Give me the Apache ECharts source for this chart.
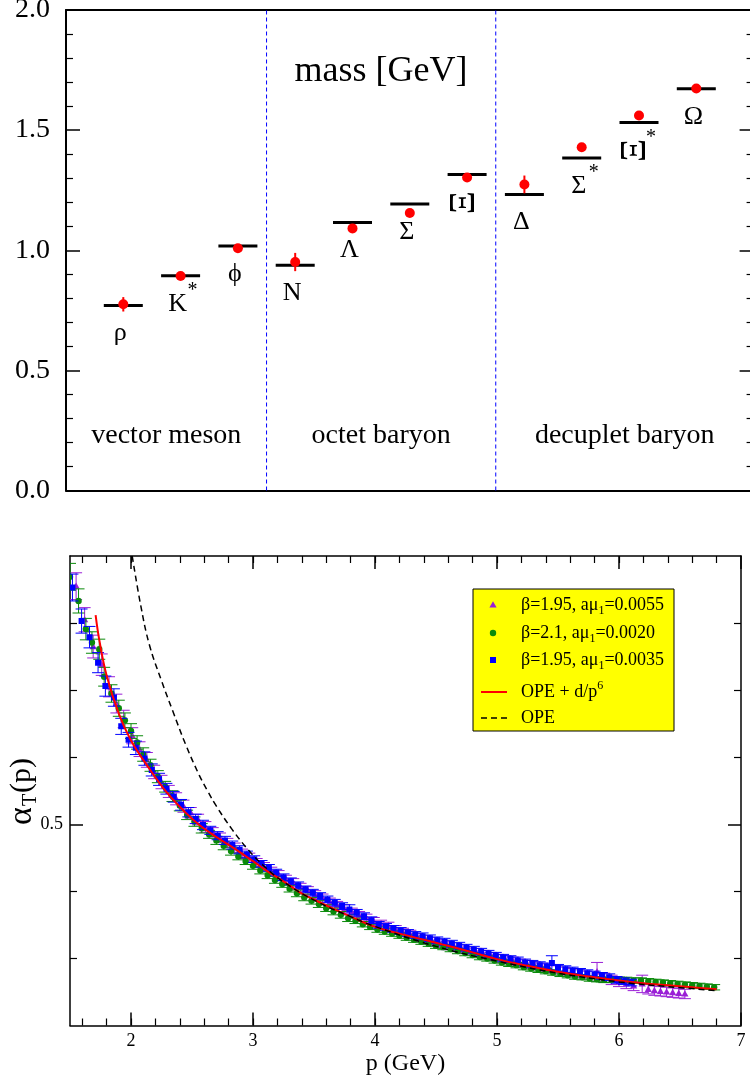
<!DOCTYPE html>
<html>
<head>
<meta charset="utf-8">
<script src="https://cdn.jsdelivr.net/npm/echarts@6/dist/echarts.min.js"></script>
<style>
html, body { margin: 0; padding: 0; background: #fff; }
#chart { width: 750px; height: 1081px; }
</style>
</head>
<body>
<div id="chart"></div>
<script>
// ---------- upper panel: hadron spectrum ----------
const hadrons     = ['ρ', 'K', 'ϕ', 'N', 'Λ', 'Σ', 'Ξ', 'Δ', 'Σ', 'Ξ', 'Ω'];
const hadronStar  = [false, true, false, false, false, false, false, false, true, true, false];
const expMass     = [0.770, 0.894, 1.018, 0.938, 1.115, 1.192, 1.315, 1.232, 1.384, 1.532, 1.672];
const latMass     = [0.775, 0.893, 1.008, 0.951, 1.091, 1.155, 1.303, 1.274, 1.429, 1.561, 1.673];
const latErr      = [0.030, 0.008, 0.008, 0.038, 0.008, 0.008, 0.008, 0.037, 0.008, 0.008, 0.008];
const groupEdges  = [0, 3.5, 7.5, 12];
const groupNames  = ['vector meson', 'octet baryon', 'decuplet baryon'];

// ---------- lower panel: running coupling ----------
const pMajorTicks = [2, 3, 4, 5, 6, 7];
const pMinorTicks = [1.6, 1.8, 2.0, 2.2, 2.4, 2.6, 2.8, 3.0, 3.2, 3.4, 3.6, 3.8, 4.0, 4.2, 4.4, 4.6, 4.8,
                     5.0, 5.2, 5.4, 5.6, 5.8, 6.0, 6.2, 6.4, 6.6, 6.8];
const aMajorTicks = [0.5];
const aMinorTicks = [0.3, 0.4, 0.6, 0.7, 0.8];

// [p, alpha_T, error]
const set195_0055 = [
  [1.55,.855,.020],[1.62,.805,.018],[1.69,.765,.017],[1.76,.738,.016],[1.82,.705,.015],[1.88,.680,.014],
  [1.94,.657,.013],[2.01,.632,.012],[2.07,.612,.011],[2.13,.596,.011],[2.19,.578,.010],[2.25,.563,.010],
  [2.31,.549,.009],[2.37,.538,.009],[2.43,.527,.009],[2.49,.517,.008],[2.55,.507,.008],[2.61,.496,.008],
  [2.67,.488,.007],[2.73,.480,.007],[2.79,.472,.007],[2.85,.465,.007],[2.91,.456,.007],[2.97,.451,.006],
  [3.03,.443,.006],[3.09,.437,.006],[3.15,.430,.006],[3.21,.425,.006],[3.27,.418,.006],[3.33,.413,.006],
  [3.39,.406,.006],[3.45,.401,.006],[3.51,.395,.006],[3.57,.390,.006],[3.63,.384,.006],[3.69,.379,.006],
  [3.75,.374,.006],[3.81,.369,.006],[3.87,.364,.006],[3.93,.360,.006],[3.99,.355,.006],[4.05,.351,.006],
  [4.11,.348,.006],[4.17,.343,.006],[4.23,.339,.006],[4.29,.336,.006],[4.35,.331,.006],[4.41,.328,.006],
  [4.47,.325,.006],[4.53,.322,.006],[4.59,.319,.006],[4.65,.317,.006],[4.71,.314,.006],[4.77,.311,.006],
  [4.83,.309,.006],[4.89,.306,.006],[4.95,.303,.006],[5.01,.300,.006],[5.07,.298,.006],[5.13,.296,.006],
  [5.19,.293,.006],[5.25,.291,.006],[5.31,.289,.006],[5.37,.287,.006],[5.43,.285,.006],[5.49,.283,.006],
  [5.55,.281,.006],[5.61,.279,.006],[5.67,.277,.006],[5.73,.275,.006],[5.82,.280,.014],[5.88,.271,.007],
  [5.94,.268,.007],[6.00,.265,.007],[6.06,.262,.007],[6.12,.259,.007],[6.19,.262,.013],[6.24,.254,.007],
  [6.29,.252,.007],[6.34,.251,.007],[6.39,.250,.007],[6.44,.249,.007],[6.49,.248,.007],[6.54,.247,.007]
];
const set210_0020 = [
  [1.50,.869,.020],[1.57,.833,.018],[1.63,.791,.016],[1.68,.771,.016],[1.74,.761,.015],[1.78,.720,.014],
  [1.84,.695,.013],[1.90,.673,.012],[1.95,.655,.011],[2.00,.639,.011],[2.05,.622,.010],[2.10,.604,.010],
  [2.16,.588,.009],[2.22,.571,.009],[2.28,.556,.008],[2.34,.542,.008],[2.40,.528,.008],[2.46,.514,.007],
  [2.52,.504,.007],[2.58,.494,.007],[2.64,.485,.006],[2.70,.476,.006],[2.76,.468,.006],[2.82,.460,.006],
  [2.88,.452,.005],[2.94,.445,.005],[3.00,.438,.005],[3.06,.431,.005],[3.12,.424,.005],[3.18,.417,.005],
  [3.24,.411,.005],[3.30,.404,.005],[3.36,.397,.005],[3.42,.391,.005],[3.48,.386,.005],[3.54,.381,.005],
  [3.60,.375,.005],[3.66,.370,.005],[3.72,.365,.005],[3.78,.360,.005],[3.84,.356,.004],[3.90,.351,.004],
  [3.96,.347,.004],[4.02,.343,.004],[4.08,.340,.004],[4.14,.337,.004],[4.20,.334,.004],[4.26,.331,.004],
  [4.32,.328,.004],[4.38,.325,.004],[4.44,.322,.004],[4.50,.319,.004],[4.56,.317,.004],[4.62,.314,.004],
  [4.68,.311,.004],[4.74,.308,.004],[4.80,.305,.004],[4.86,.302,.004],[4.92,.300,.004],[4.98,.297,.004],
  [5.04,.294,.004],[5.10,.292,.004],[5.16,.290,.004],[5.22,.287,.004],[5.28,.285,.004],[5.34,.283,.004],
  [5.40,.281,.004],[5.46,.279,.004],[5.52,.277,.004],[5.58,.275,.004],[5.64,.273,.004],[5.70,.272,.004],
  [5.76,.270,.004],[5.82,.269,.004],[5.88,.268,.004],[5.94,.268,.004],[6.00,.268,.004],[6.06,.268,.004],
  [6.12,.267,.004],[6.18,.267,.004],[6.24,.266,.004],[6.30,.265,.004],[6.36,.264,.004],[6.42,.263,.004],
  [6.48,.262,.004],[6.54,.261,.004],[6.60,.260,.004],[6.66,.259,.004],[6.72,.258,.004],[6.78,.257,.004]
];
const set195_0035 = [
  [1.52,.853,.020],[1.595,.803,.018],[1.66,.779,.016],[1.73,.741,.015],[1.79,.706,.015],[1.86,.689,.013],
  [1.92,.646,.012],[1.98,.626,.011],[2.04,.614,.010],[2.11,.598,.010],[2.17,.581,.009],[2.23,.567,.009],
  [2.29,.553,.008],[2.35,.541,.008],[2.41,.529,.008],[2.47,.518,.007],[2.53,.508,.007],[2.59,.499,.007],
  [2.65,.491,.006],[2.71,.483,.006],[2.77,.476,.006],[2.83,.469,.006],[2.89,.462,.006],[2.95,.455,.005],
  [3.01,.448,.005],[3.07,.441,.005],[3.13,.435,.005],[3.19,.428,.005],[3.25,.421,.005],[3.31,.415,.005],
  [3.37,.409,.005],[3.43,.403,.005],[3.49,.398,.005],[3.55,.393,.005],[3.61,.388,.005],[3.67,.383,.005],
  [3.73,.378,.005],[3.79,.373,.007],[3.85,.368,.005],[3.91,.363,.005],[3.97,.357,.005],[4.03,.350,.005],
  [4.09,.347,.005],[4.15,.344,.005],[4.21,.341,.005],[4.27,.338,.005],[4.33,.335,.005],[4.39,.333,.005],
  [4.45,.330,.005],[4.51,.327,.005],[4.57,.325,.005],[4.63,.322,.005],[4.69,.319,.005],[4.75,.316,.005],
  [4.81,.313,.005],[4.87,.310,.005],[4.93,.307,.005],[4.99,.304,.005],[5.05,.301,.005],[5.11,.299,.005],
  [5.17,.297,.005],[5.23,.294,.005],[5.29,.292,.005],[5.35,.290,.005],[5.41,.288,.005],[5.45,.293,.011],
  [5.50,.286,.005],[5.56,.284,.005],[5.62,.282,.005],[5.68,.280,.005],[5.74,.278,.005],[5.80,.276,.005],
  [5.86,.274,.005],[5.92,.272,.005],[5.98,.268,.005],[6.04,.266,.005],[6.10,.264,.005]
];

// fitted curves [p, alpha_T]
const opeFit = [
  [1.71,.812],[1.74,.775],[1.80,.722],[1.90,.665],[2.00,.625],[2.15,.583],[2.30,.546],[2.45,.517],
  [2.56,.499],[2.70,.481],[2.83,.466],[3.00,.445],[3.11,.431],[3.25,.415],[3.38,.399],[3.52,.386],
  [3.66,.374],[3.83,.360],[4.00,.347],[4.20,.337],[4.40,.328],[4.55,.321],[4.80,.309],[5.00,.299],
  [5.25,.289],[5.50,.280],[5.75,.273],[6.00,.267],[6.20,.263],[6.40,.260],[6.60,.257],[6.80,.254]
];
const opeOnly = [
  [2.01,.900],[2.08,.826],[2.15,.768],[2.25,.714],[2.34,.670],[2.45,.618],[2.56,.573],[2.63,.549],
  [2.70,.527],[2.83,.492],[2.97,.460],[3.10,.436],[3.25,.414],[3.52,.385],[3.79,.363],[4.01,.347],
  [4.50,.318],[5.00,.296],[5.50,.278],[6.00,.265],[6.40,.258],[6.80,.252]
];

const legendItems = [
  { kind: 'triangle', color: '#9a1fd6', text: '{t|β=1.95, aμ}{s|1}{t|=0.0055}' },
  { kind: 'circle',   color: '#0a8a0a', text: '{t|β=2.1, aμ}{s|1}{t|=0.0020}' },
  { kind: 'square',   color: '#0000ff', text: '{t|β=1.95, aμ}{s|1}{t|=0.0035}' },
  { kind: 'line',     color: '#ff0000', text: '{t|OPE + d/p}{u|6}' },
  { kind: 'dash',     color: '#000000', text: '{t|OPE}' }
];

const SERIF = '"Liberation Serif", "DejaVu Serif", serif';
const chart = echarts.init(document.getElementById('chart'), null, { renderer: 'canvas' });

// hadron level: experimental bar plus name label underneath
function renderHadronBar(params, api) {
  const i = params.dataIndex;
  const c = api.coord([api.value(0), api.value(1)]);
  const hw = 19.5;
  const lx = c[0] - 3, ly = c[1] + 28;
  const name = hadrons[i];
  const children = [
    { type: 'line', shape: { x1: c[0] - hw, y1: c[1], x2: c[0] + hw, y2: c[1] },
      style: { stroke: '#000', lineWidth: 3 } }
  ];
  const glyph = { type: 'text', x: lx, y: ly,
    style: { text: name, font: '26px ' + SERIF, fill: '#000', textAlign: 'center', textVerticalAlign: 'middle' } };
  if (name === 'Ξ') {
    glyph.rotation = Math.PI / 2;
    glyph.style.font = '36px ' + SERIF;
  }
  children.push(glyph);
  if (hadronStar[i]) {
    children.push({ type: 'text', x: lx + 15, y: ly - 13,
      style: { text: '*', font: '20px ' + SERIF, fill: '#000', textAlign: 'center', textVerticalAlign: 'middle' } });
  }
  return { type: 'group', children };
}

// lattice result: point with vertical error bar
function renderLattice(params, api) {
  const x = api.value(0), y = api.value(1), e = api.value(2);
  const c = api.coord([x, y]);
  const hi = api.coord([x, y + e]);
  const lo = api.coord([x, y - e]);
  return { type: 'group', children: [
    { type: 'line', shape: { x1: c[0], y1: hi[1], x2: c[0], y2: lo[1] }, style: { stroke: '#ff0000', lineWidth: 2 } },
    { type: 'circle', shape: { cx: c[0], cy: c[1], r: 5 }, style: { fill: '#ff0000' } }
  ] };
}

function renderDivider(params, api) {
  const x = api.value(0);
  const a = api.coord([x, 0]);
  const b = api.coord([x, 2]);
  return { type: 'line', shape: { x1: a[0], y1: a[1], x2: b[0], y2: b[1] },
    style: { stroke: '#0000ff', lineWidth: 1, lineDash: [4, 3] } };
}

function renderGroupName(params, api) {
  const c = api.coord([api.value(0), api.value(1)]);
  return { type: 'text', x: c[0], y: c[1],
    style: { text: groupNames[params.dataIndex], font: '28px ' + SERIF, fill: '#000',
      textAlign: 'center', textVerticalAlign: 'middle' } };
}

function symbolShape(kind, cx, cy, color) {
  if (kind === 'square') return { type: 'rect', shape: { x: cx - 3, y: cy - 3, width: 6, height: 6 }, style: { fill: color } };
  if (kind === 'circle') return { type: 'circle', shape: { cx, cy, r: 3.2 }, style: { fill: color } };
  return { type: 'polygon', shape: { points: [[cx, cy - 3.8], [cx + 3.6, cy + 2.6], [cx - 3.6, cy + 2.6]] }, style: { fill: color } };
}

// lattice point with capped error bar
function errorBarRenderer(kind, color) {
  return function (params, api) {
    const x = api.value(0), y = api.value(1), e = api.value(2);
    const c = api.coord([x, y]);
    const hi = api.coord([x, y + e]);
    const lo = api.coord([x, y - e]);
    const hw = 6;
    const st = { stroke: color, lineWidth: 1 };
    return { type: 'group', children: [
      { type: 'line', shape: { x1: c[0], y1: hi[1], x2: c[0], y2: lo[1] }, style: st },
      { type: 'line', shape: { x1: c[0] - hw, y1: hi[1], x2: c[0] + hw, y2: hi[1] }, style: st },
      { type: 'line', shape: { x1: c[0] - hw, y1: lo[1], x2: c[0] + hw, y2: lo[1] }, style: st },
      symbolShape(kind, c[0], c[1], color)
    ] };
  };
}

const hadronX = hadrons.map((_, i) => i + 1);
const groupCenters = groupNames.map((_, i) => (groupEdges[i] + groupEdges[i + 1]) / 2);

// legend box
const LBX = 473, LBY = 589, LBW = 201, LBH = 142;
const legendRowY = [605, 633, 660, 692, 718];
const legendChildren = [
  { type: 'rect', shape: { x: LBX, y: LBY, width: LBW, height: LBH },
    style: { fill: '#ffff00', stroke: '#000', lineWidth: 1 } }
];
legendItems.forEach((it, k) => {
  const y = legendRowY[k];
  if (it.kind === 'line') {
    legendChildren.push({ type: 'line', shape: { x1: 481, y1: y, x2: 507, y2: y }, style: { stroke: it.color, lineWidth: 2 } });
  } else if (it.kind === 'dash') {
    legendChildren.push({ type: 'line', shape: { x1: 481, y1: y, x2: 508, y2: y }, style: { stroke: it.color, lineWidth: 1.5, lineDash: [6, 4] } });
  } else {
    legendChildren.push(symbolShape(it.kind, 493, y, it.color));
  }
  legendChildren.push({ type: 'text', x: 521, y: y,
    style: { text: it.text, textAlign: 'left', textVerticalAlign: 'middle',
      rich: {
        t: { font: '18px ' + SERIF, fill: '#000' },
        s: { font: '12px ' + SERIF, fill: '#000', padding: [12, 0, 0, 0] },
        u: { font: '12px ' + SERIF, fill: '#000', padding: [0, 0, 12, 0] }
      } } });
});

const tickMajor = { color: '#000', width: 1.5 };
const tickMinor = { color: '#000', width: 1.2 };

const option = {
  backgroundColor: '#ffffff',
  animation: false,
  grid: [
    { left: 66, top: 10, width: 687.6, height: 480.5, containLabel: false, outerBoundsMode: 'none' },
    { left: 70, top: 556, width: 671, height: 469.5, containLabel: false, outerBoundsMode: 'none' }
  ],
  xAxis: [
    // upper panel frame
    { gridIndex: 0, type: 'value', min: 0, max: 12, position: 'bottom',
      axisLine: { onZero: false, lineStyle: { color: '#000', width: 2 } },
      axisTick: { show: false }, axisLabel: { show: false }, splitLine: { show: false } },
    { gridIndex: 0, type: 'value', min: 0, max: 12, position: 'top',
      axisLine: { onZero: false, lineStyle: { color: '#000', width: 2 } },
      axisTick: { show: false }, axisLabel: { show: false }, splitLine: { show: false } },
    // lower panel: bottom major / minor, top major / minor
    { gridIndex: 1, type: 'value', min: 1.5, max: 7, position: 'bottom',
      name: 'p (GeV)', nameLocation: 'middle', nameGap: 25,
      nameTextStyle: { fontFamily: SERIF, fontSize: 24, color: '#000' },
      axisLine: { onZero: false, lineStyle: { color: '#000', width: 1.5 } },
      axisTick: { inside: true, length: 13, customValues: pMajorTicks, lineStyle: tickMajor },
      axisLabel: { customValues: pMajorTicks, fontFamily: SERIF, fontSize: 18, color: '#000', margin: 7 },
      splitLine: { show: false } },
    { gridIndex: 1, type: 'value', min: 1.5, max: 7, position: 'bottom',
      axisLine: { show: false },
      axisTick: { inside: true, length: 7, customValues: pMinorTicks, lineStyle: tickMinor },
      axisLabel: { show: false }, splitLine: { show: false } },
    { gridIndex: 1, type: 'value', min: 1.5, max: 7, position: 'top',
      axisLine: { onZero: false, lineStyle: { color: '#000', width: 1.5 } },
      axisTick: { inside: true, length: 13, customValues: pMajorTicks, lineStyle: tickMajor },
      axisLabel: { show: false }, splitLine: { show: false } },
    { gridIndex: 1, type: 'value', min: 1.5, max: 7, position: 'top',
      axisLine: { show: false },
      axisTick: { inside: true, length: 7, customValues: pMinorTicks, lineStyle: tickMinor },
      axisLabel: { show: false }, splitLine: { show: false } }
  ],
  yAxis: [
    { gridIndex: 0, type: 'value', min: 0, max: 2, interval: 0.5, position: 'left',
      axisLine: { show: true, onZero: false, lineStyle: { color: '#000', width: 2 } },
      axisTick: { show: true, inside: true, length: 14, lineStyle: tickMajor },
      minorTick: { show: true, splitNumber: 5, length: 7, lineStyle: tickMinor },
      axisLabel: { formatter: v => v.toFixed(1), fontFamily: SERIF, fontSize: 28, color: '#000', margin: 16 },
      splitLine: { show: false } },
    { gridIndex: 0, type: 'value', min: 0, max: 2, interval: 0.5, position: 'right',
      axisLine: { show: true, onZero: false, lineStyle: { color: '#000', width: 2 } },
      axisTick: { show: true, inside: true, length: 14, lineStyle: tickMajor },
      minorTick: { show: true, splitNumber: 5, length: 7, lineStyle: tickMinor },
      axisLabel: { show: false }, splitLine: { show: false } },
    // lower panel
    { gridIndex: 1, type: 'value', min: 0.2, max: 0.9, position: 'left',
      axisLine: { show: true, onZero: false, lineStyle: { color: '#000', width: 1.5 } },
      axisTick: { show: true, inside: true, length: 13, customValues: aMajorTicks, lineStyle: tickMajor },
      axisLabel: { customValues: aMajorTicks, formatter: v => v.toFixed(1), fontFamily: SERIF, fontSize: 18, color: '#000', margin: 7 },
      splitLine: { show: false } },
    { gridIndex: 1, type: 'value', min: 0.2, max: 0.9, position: 'left',
      axisLine: { show: false },
      axisTick: { show: true, inside: true, length: 7, customValues: aMinorTicks, lineStyle: tickMinor },
      axisLabel: { show: false }, splitLine: { show: false } },
    { gridIndex: 1, type: 'value', min: 0.2, max: 0.9, position: 'right',
      axisLine: { show: true, onZero: false, lineStyle: { color: '#000', width: 1.5 } },
      axisTick: { show: true, inside: true, length: 13, customValues: aMajorTicks, lineStyle: tickMajor },
      axisLabel: { show: false }, splitLine: { show: false } },
    { gridIndex: 1, type: 'value', min: 0.2, max: 0.9, position: 'right',
      axisLine: { show: false },
      axisTick: { show: true, inside: true, length: 7, customValues: aMinorTicks, lineStyle: tickMinor },
      axisLabel: { show: false }, splitLine: { show: false } }
  ],
  series: [
    { type: 'custom', name: 'dividers', xAxisIndex: 0, yAxisIndex: 0,
      data: groupEdges.slice(1, -1).map(x => [x]), renderItem: renderDivider, encode: { x: 0 }, z: 1 },
    { type: 'custom', name: 'groups', xAxisIndex: 0, yAxisIndex: 0,
      data: groupCenters.map(x => [x, 0.229]), renderItem: renderGroupName, encode: { x: 0, y: 1 } },
    { type: 'custom', name: 'experiment', xAxisIndex: 0, yAxisIndex: 0,
      data: hadronX.map((x, i) => [x, expMass[i]]), renderItem: renderHadronBar, encode: { x: 0, y: 1 }, z: 3 },
    { type: 'custom', name: 'lattice', xAxisIndex: 0, yAxisIndex: 0,
      data: hadronX.map((x, i) => [x, latMass[i], latErr[i]]), renderItem: renderLattice, encode: { x: 0, y: 1 }, z: 4 },

    { type: 'custom', name: 'β=1.95, aμ1=0.0055', xAxisIndex: 2, yAxisIndex: 2, clip: true,
      data: set195_0055, renderItem: errorBarRenderer('triangle', '#9a1fd6'), encode: { x: 0, y: 1 }, z: 2 },
    { type: 'custom', name: 'β=2.1, aμ1=0.0020', xAxisIndex: 2, yAxisIndex: 2, clip: true,
      data: set210_0020, renderItem: errorBarRenderer('circle', '#0a8a0a'), encode: { x: 0, y: 1 }, z: 3 },
    { type: 'custom', name: 'β=1.95, aμ1=0.0035', xAxisIndex: 2, yAxisIndex: 2, clip: true,
      data: set195_0035, renderItem: errorBarRenderer('square', '#0000ff'), encode: { x: 0, y: 1 }, z: 4 },
    { type: 'line', name: 'OPE + d/p^6', xAxisIndex: 2, yAxisIndex: 2, data: opeFit, smooth: 0.4,
      showSymbol: false, lineStyle: { color: '#ff0000', width: 2 }, z: 6 },
    { type: 'line', name: 'OPE', xAxisIndex: 2, yAxisIndex: 2, data: opeOnly, smooth: 0.4,
      showSymbol: false, lineStyle: { color: '#000', width: 1.5, type: [6, 4] }, z: 7 }
  ],
  graphic: [
    { type: 'text', x: 381, y: 72, style: { text: 'mass [GeV]', font: '36px ' + SERIF, fill: '#000',
      textAlign: 'center', textVerticalAlign: 'middle' } },
    { type: 'group', x: 22, y: 790, rotation: Math.PI / 2, children: [
      { type: 'text', x: -26, y: 0, style: { text: 'α', font: '34px ' + SERIF, fill: '#000', textAlign: 'center', textVerticalAlign: 'middle' } },
      { type: 'text', x: -10, y: 9, style: { text: 'T', font: '20px ' + SERIF, fill: '#000', textAlign: 'center', textVerticalAlign: 'middle' } },
      { type: 'text', x: -3, y: 0, style: { text: '(p)', font: '30px ' + SERIF, fill: '#000', textAlign: 'left', textVerticalAlign: 'middle' } }
    ] },
    { type: 'group', children: legendChildren }
  ]
};

chart.setOption(option);
</script>
</body>
</html>
